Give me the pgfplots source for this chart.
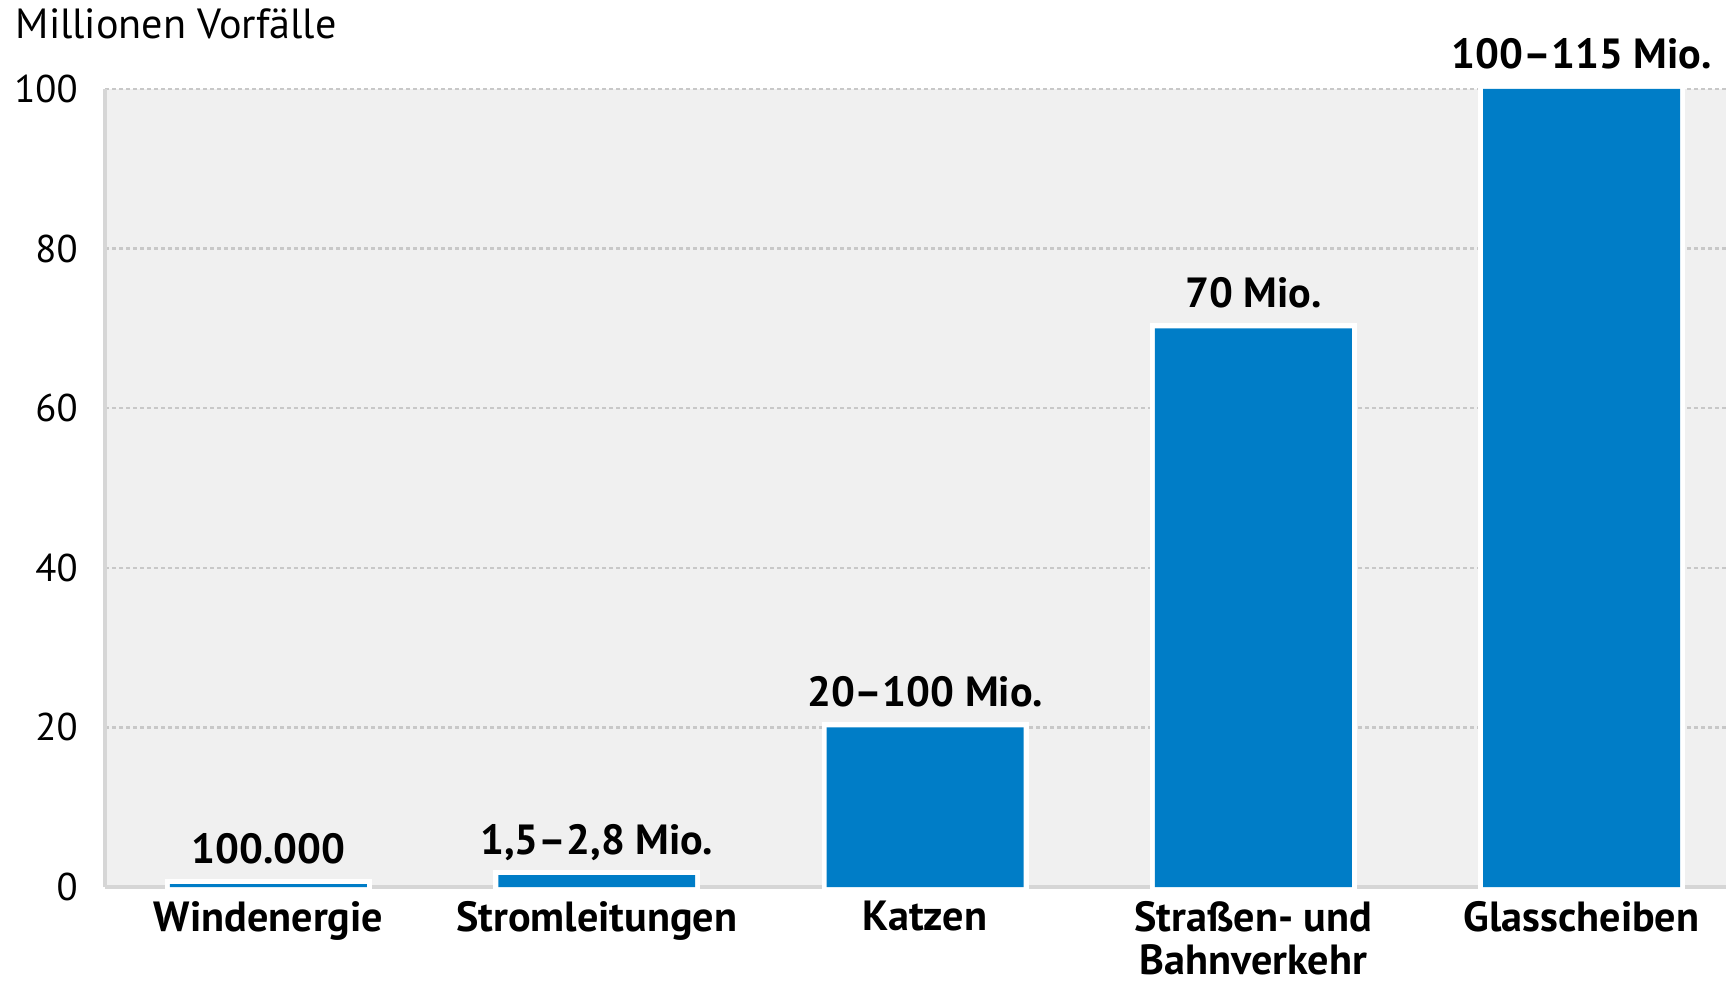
\documentclass[border=0pt]{standalone}
\usepackage{fontspec}
\setmainfont{PT Sans}
\usepackage{pgfplots}
\pgfplotsset{compat=1.18}
\definecolor{barblue}{RGB}{0,125,199}
\definecolor{bggrey}{RGB}{240,240,240}
\definecolor{gridgrey}{RGB}{200,200,200}
\definecolor{axgrey}{RGB}{214,214,214}
\begin{document}
\begin{tikzpicture}
\begin{axis}[
  scale only axis, width=16.21cm, height=7.98cm,
  at={(0,0)}, anchor=south west,
  xmin=-0.498, xmax=4.44, ymin=0, ymax=100,
  axis x line*=bottom, axis y line*=left,
  axis line style={draw=axgrey, line width=0.4mm, -},
  axis background/.style={fill=bggrey},
  ytick={0,20,...,100},
  xtick={0,...,4},
  xticklabels={Windenergie, Stromleitungen, Katzen, {Straßen- und\\Bahnverkehr}, Glasscheiben},
  major tick length=0pt,
  ymajorgrids,
  grid style={draw=gridgrey, line width=0.25mm, dash pattern=on 0.35mm off 0.35mm},
  yticklabel style={font=\fontsize{11}{13}\selectfont, xshift=-1.5mm, text=black},
  xticklabel style={font=\bfseries\fontsize{12}{12.2}\selectfont, align=center, yshift=-0.2mm, text=black},
  /pgf/number format/assume math mode=true,
  clip=false,
]
\addplot[ybar, bar width=0.6, bar shift=0pt, fill=white, draw=white, line width=1mm]
  coordinates {(0,0.35) (1,1.5) (2,20) (3,70) (4,100)};
\addplot[ybar, bar width=0.6, bar shift=0pt, fill=barblue, draw=none,
  nodes near coords, point meta=explicit symbolic,
  every node near coord/.append style={font=\bfseries\fontsize{12}{14}\selectfont, text=black, inner sep=0pt, text depth=0pt, anchor=south, yshift=2mm}]
  coordinates {(0,0.35) [{100.000}] (1,1.5) [{1,5–2,8 Mio.}] (2,20) [{20–100 Mio.}] (3,70) [{70 Mio.}] (4,100) [{100–115 Mio.}]};
\node[anchor=base west, inner sep=0pt, font=\fontsize{12}{14}\selectfont] at (rel axis cs:0,1) [xshift=-9mm, yshift=5mm] {Millionen Vorfälle};
\end{axis}
\pgfresetboundingbox
\path (-1.05cm,-0.94cm) rectangle (16.21cm,8.87cm);
\end{tikzpicture}
\end{document}
